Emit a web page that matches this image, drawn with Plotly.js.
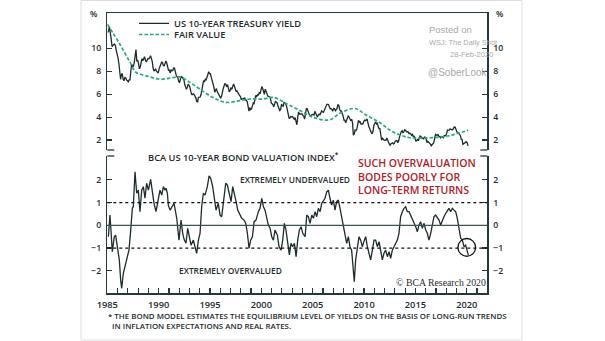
<!DOCTYPE html>
<html><head><meta charset="utf-8">
<script src="https://cdn.plot.ly/plotly-3.0.1.min.js"></script>
<style>html,body{margin:0;padding:0;background:#fff}#chart{width:605px;height:341px}</style>
</head><body><div id="chart"></div>
<script>
// ---------- DATA ----------
const startYear = 1985; // monthly series starts Jan 1985
const yieldMonthly = [
 11.38,11.51,11.86,11.43,10.85,10.16,10.31,10.33,10.37,10.24,9.78,9.26,
 9.19,8.70,7.78,7.30,7.71,7.80,7.30,7.17,7.45,7.43,7.25,7.11,
 7.08,7.25,7.25,8.02,8.61,8.40,8.45,8.76,9.42,9.90,8.86,8.99,
 8.67,8.21,8.37,8.72,9.09,8.92,9.06,9.26,8.98,8.80,8.96,9.11,
 9.09,9.17,9.36,9.18,8.86,8.28,8.02,8.11,8.19,8.01,7.87,7.84,
 8.21,8.47,8.59,8.79,8.76,8.48,8.47,8.75,8.89,8.72,8.39,8.08,
 8.09,7.85,8.11,8.04,8.07,8.28,8.27,7.90,7.65,7.53,7.42,7.09,
 7.03,7.34,7.54,7.48,7.39,7.26,6.84,6.59,6.42,6.59,6.87,6.77,
 6.60,6.26,5.98,5.97,6.04,5.96,5.81,5.68,5.36,5.33,5.72,5.77,
 5.75,5.97,6.48,6.97,7.18,7.10,7.30,7.24,7.46,7.74,7.96,7.81,
 7.78,7.47,7.20,7.06,6.63,6.17,6.28,6.49,6.20,6.04,5.93,5.71,
 5.65,5.81,6.27,6.51,6.74,6.91,6.87,6.64,6.83,6.53,6.20,6.30,
 6.58,6.42,6.69,6.89,6.71,6.49,6.22,6.30,6.21,6.03,5.88,5.81,
 5.54,5.57,5.65,5.64,5.65,5.50,5.46,5.34,4.81,4.53,4.83,4.65,
 4.72,5.00,5.23,5.18,5.54,5.90,5.79,5.94,5.92,6.11,6.03,6.28,
 6.66,6.52,6.26,5.99,6.44,6.10,6.05,5.83,5.80,5.74,5.72,5.24,
 5.16,5.10,4.89,5.14,5.39,5.28,5.24,4.97,4.73,4.57,4.65,5.09,
 5.04,4.91,5.28,5.21,5.16,4.93,4.65,4.26,3.87,3.94,4.05,4.03,
 4.05,3.90,3.81,3.96,3.57,3.33,3.98,4.45,4.27,4.29,4.30,4.27,
 4.15,4.08,3.83,4.35,4.72,4.73,4.50,4.28,4.13,4.10,4.19,4.23,
 4.22,4.17,4.50,4.34,4.14,4.00,4.18,4.26,4.20,4.46,4.54,4.47,
 4.42,4.57,4.72,4.99,5.11,5.11,5.09,4.88,4.72,4.73,4.60,4.56,
 4.76,4.72,4.56,4.69,4.75,5.10,5.00,4.67,4.52,4.53,4.15,4.10,
 3.74,3.74,3.51,3.68,3.88,4.10,4.01,3.89,3.69,3.81,3.53,2.42,
 2.52,2.87,2.82,2.93,3.29,3.72,3.56,3.59,3.40,3.39,3.40,3.59,
 3.73,3.69,3.73,3.85,3.42,3.20,3.01,2.70,2.65,2.54,2.76,3.29,
 3.39,3.58,3.41,3.46,3.17,3.00,3.00,2.30,1.98,2.15,2.01,1.98,
 1.97,1.97,2.17,2.05,1.80,1.62,1.53,1.68,1.72,1.75,1.65,1.72,
 1.91,1.98,1.96,1.76,1.93,2.30,2.58,2.74,2.81,2.62,2.72,2.90,
 2.86,2.71,2.72,2.71,2.56,2.60,2.54,2.42,2.53,2.30,2.33,2.21,
 1.88,1.98,2.04,1.94,2.20,2.36,2.32,2.17,2.17,2.07,2.26,2.24,
 2.09,1.78,1.89,1.81,1.81,1.64,1.50,1.56,1.63,1.76,2.14,2.49,
 2.43,2.42,2.48,2.30,2.30,2.19,2.32,2.21,2.20,2.36,2.35,2.40,
 2.58,2.86,2.84,2.87,2.98,2.91,2.89,2.89,3.00,3.15,3.12,2.83,
 2.71,2.68,2.57,2.53,2.40,2.07,2.06,1.63,1.70,1.71,1.81,1.86,
 1.76,1.50
];
const fairYears  = [1985.0,1986.2,1987.2,1987.8,1988.8,1990.1,1991.1,1992.1,1993.0,1994.0,1995.3,1996.6,1997.9,1998.9,2000.2,2001.2,2002.5,2003.8,2005.1,2006.6,2007.7,2009.1,2010.2,2011.55,2012.5,2013.5,2014.5,2016.4,2018.1,2019.0,2020.15];
const fairValues = [12.1,10.4,8.8,7.9,7.6,7.3,7.4,7.5,7.05,6.45,5.7,5.28,5.43,5.58,5.58,5.72,5.14,4.55,3.96,3.75,4.35,4.75,4.18,3.51,2.87,2.44,2.2,2.2,2.35,2.55,2.85];

const indexYears = [1985.10,1985.26,1985.49,1985.68,1985.81,1985.98,1986.17,1986.30,1986.40,1986.56,1986.72,1986.89,1987.11,1987.28,1987.44,1987.53,1987.70,1987.86,1988.02,1988.18,1988.35,1988.51,1988.67,1988.83,1989.00,1989.22,1989.39,1989.55,1989.74,1989.97,1990.13,1990.30,1990.46,1990.62,1990.72,1990.85,1990.94,1991.11,1991.27,1991.50,1991.76,1991.98,1992.18,1992.34,1992.50,1992.66,1992.83,1992.99,1993.15,1993.38,1993.54,1993.70,1993.87,1994.03,1994.19,1994.35,1994.52,1994.74,1994.91,1995.07,1995.26,1995.42,1995.59,1995.81,1995.98,1996.14,1996.30,1996.53,1996.69,1996.89,1997.05,1997.21,1997.37,1997.54,1997.70,1997.86,1998.09,1998.31,1998.48,1998.64,1998.80,1998.96,1999.13,1999.29,1999.48,1999.71,1999.87,2000.04,2000.20,2000.36,2000.52,2000.68,2000.85,2001.01,2001.17,2001.33,2001.56,2001.72,2001.92,2002.08,2002.24,2002.40,2002.53,2002.73,2002.89,2003.05,2003.22,2003.38,2003.54,2003.70,2003.87,2004.03,2004.26,2004.42,2004.58,2004.74,2004.91,2005.07,2005.23,2005.39,2005.55,2005.72,2005.88,2006.04,2006.20,2006.37,2006.53,2006.68,2006.85,2007.01,2007.17,2007.33,2007.50,2007.66,2007.82,2007.98,2008.14,2008.31,2008.47,2008.63,2008.79,2008.96,2009.05,2009.18,2009.35,2009.51,2009.67,2009.83,2010.03,2010.16,2010.32,2010.48,2010.64,2010.81,2010.97,2011.13,2011.29,2011.46,2011.62,2011.78,2011.94,2012.10,2012.27,2012.43,2012.59,2012.75,2012.92,2013.08,2013.24,2013.40,2013.56,2013.73,2013.89,2014.05,2014.21,2014.38,2014.54,2014.70,2014.86,2015.03,2015.19,2015.35,2015.51,2015.67,2015.84,2016.00,2016.16,2016.32,2016.49,2016.65,2016.81,2016.97,2017.13,2017.30,2017.46,2017.62,2017.78,2017.95,2018.11,2018.27,2018.43,2018.60,2018.76,2018.92,2019.08,2019.24,2019.41,2019.57,2019.73,2019.89,2020.06,2020.15];
const indexValues = [-0.50,0.45,-1.16,-0.50,-0.43,-0.94,-1.52,-2.40,-2.77,-2.11,-1.82,-1.38,-1.09,-0.21,0.75,0.82,2.36,1.41,1.55,0.60,1.55,1.70,1.19,1.85,1.55,2.02,1.41,0.97,0.60,1.26,1.55,1.33,1.70,1.55,1.63,1.41,0.89,0.67,0.82,0.97,0.31,-0.65,0.23,-0.35,-0.65,-0.79,-0.13,-0.50,-0.87,-0.65,-0.91,-1.23,-0.65,-0.35,0.82,1.41,1.33,1.70,2.18,2.07,1.70,1.26,0.67,0.97,0.45,0.38,1.11,1.85,1.77,1.41,1.04,1.70,1.41,1.04,0.67,0.53,0.31,0.23,0.09,-0.35,-1.01,-0.65,-0.50,0.16,0.23,0.60,0.75,1.19,0.82,0.67,0.31,0.01,-0.13,-0.50,-0.65,-0.21,-0.43,-0.94,-1.09,-0.65,0.09,-0.21,-0.65,-1.30,-0.79,-0.94,-0.79,-1.38,-0.65,-0.21,-0.06,-0.35,-0.50,0.45,0.38,0.09,0.45,0.31,0.60,0.38,0.75,0.60,0.97,1.11,1.19,1.48,1.55,1.19,0.89,1.11,0.67,1.04,1.11,0.75,0.38,0.01,-0.50,-0.79,-0.50,-0.94,-1.09,-1.82,-2.48,-1.52,-1.09,-0.50,-0.65,-0.94,-0.65,-0.50,-0.94,-1.23,-1.52,-1.09,-0.65,-0.65,-0.94,-0.72,-1.23,-1.52,-1.23,-1.09,-1.38,-1.16,-1.45,-1.09,-0.94,-0.79,-0.65,-0.35,0.38,0.60,0.75,0.82,0.60,0.60,0.45,0.31,0.16,-0.06,-0.28,0.01,0.16,-0.13,0.09,-0.21,-0.35,-0.65,-0.35,0.01,0.38,0.45,0.31,0.23,0.01,0.23,0.38,0.53,0.67,0.75,0.60,0.75,0.67,0.60,0.31,-0.13,-0.57,-0.65,-0.94,-0.87,-1.09,-1.30];

const labelYears = [1985,1990,1995,2000,2005,2010,2015,2020];
const yieldTicks = [2,4,6,8,10];
const indexTicks = [-2,-1,0,1,2];
const bandLevels = [-1,1];
const highlight = {year: 2020.0, value: -0.97};

// ---------- DRAW ----------
const W = 605, H = 341;
const px = v => v / W, py = v => 1 - v / H;
const yieldYears = yieldMonthly.map((_, i) => startYear + (i + 0.5) / 12);
const xRange = [1985, 2022];
const allYears = []; for (let y = xRange[0]; y <= xRange[1]; y++) allYears.push(y);

const INK = '#1d2b2c', AX = '#24393a', GREEN = '#22ad72';
const baseFont = {family: 'Open Sans, Lato, sans-serif', color: INK};
const f = (size, weight) => Object.assign({}, baseFont, {size, weight: weight || 600});
const tickFont = f(8.7);
const xDom = [px(107.3), px(487.3)];

const traces = [
  {x: yieldYears, y: yieldMonthly, xaxis: 'x', yaxis: 'y', mode: 'lines', name: 'US 10-YEAR TREASURY YIELD',
   line: {color: INK, width: 1.3}, legend: 'legend'},
  {x: fairYears, y: fairValues, xaxis: 'x', yaxis: 'y', mode: 'lines', name: 'FAIR VALUE',
   line: {color: GREEN, width: 1.7, dash: '3.5px,2px', shape: 'spline', smoothing: 1}, legend: 'legend2'},
  {x: indexYears, y: indexValues, xaxis: 'x2', yaxis: 'y2', mode: 'lines', showlegend: false,
   line: {color: INK, width: 1.3}},
  {x: [], y: [], xaxis: 'x', yaxis: 'y3', showlegend: false, hoverinfo: 'skip'},
  {x: [], y: [], xaxis: 'x2', yaxis: 'y4', showlegend: false, hoverinfo: 'skip'}
];

const yTop = [1.13, 13.08], yBot = [-2.99, 3.05];
const yAxisCommon = {showline: true, linecolor: AX, linewidth: 1.3, ticks: 'inside', ticklen: 5, tickwidth: 1.2,
  tickcolor: AX, showgrid: false, zeroline: false, tickfont: tickFont, fixedrange: true, ticklabelstandoff: 3};

const shapes = [];
bandLevels.forEach(l => shapes.push({type: 'line', xref: 'x2 domain', yref: 'y2', x0: 0, x1: 1, y0: l, y1: l,
  line: {color: '#111', width: 1.2, dash: '3px,3px'}}));
shapes.push({type: 'line', xref: 'x2 domain', yref: 'y2', x0: 0, x1: 1, y0: 0, y1: 0, line: {color: '#3a5354', width: 1.2}});
const stub = 7 / 380;
[['y domain', 0], ['y2 domain', 1]].forEach(([ref, yy]) => {
  shapes.push({type: 'line', xref: 'x domain', yref: ref, x0: 0, x1: stub, y0: yy, y1: yy, line: {color: AX, width: 1.3}});
  shapes.push({type: 'line', xref: 'x domain', yref: ref, x0: 1 - stub, x1: 1, y0: yy, y1: yy, line: {color: AX, width: 1.3}});
});
shapes.push({type: 'circle', xref: 'x2', yref: 'y2', x0: highlight.year - 0.86, x1: highlight.year + 0.86,
  y0: highlight.value - 0.39, y1: highlight.value + 0.39, line: {color: '#111', width: 1.3}});
shapes.push({type: 'rect', xref: 'paper', yref: 'paper', x0: px(81), x1: px(522), y0: py(340), y1: py(0.5),
  line: {color: '#dedede', width: 1}});

const ann = (text, x, y, opts) => Object.assign({text, xref: 'paper', yref: 'paper', x: px(x), y: py(y),
  showarrow: false, xanchor: 'left', yanchor: 'middle', font: f(8.5)}, opts || {});
const gray = (size) => ({family: 'Liberation Sans, Arial, sans-serif', size, color: '#a9a9a9'});

const annotations = [
  ann('%', 98.5, 13.5, {xanchor: 'right'}),
  ann('%', 494, 13.5),
  ann('BCA US 10-YEAR BOND VALUATION INDEX<sup>*</sup>', 146, 156.5, {font: f(9.3)}),
  ann('EXTREMELY UNDERVALUED', 295, 179, {xanchor: 'center', font: f(8.4)}),
  ann('EXTREMELY OVERVALUED', 230.5, 270, {xanchor: 'center', font: f(8.4)}),
  ann('SUCH OVERVALUATION<br>BODES POORLY FOR<br>LONG-TERM RETURNS', 355.5, 176.5, {align: 'left',
    font: {family: 'Open Sans, sans-serif', size: 10.5, weight: 600, color: '#b3201f'}}),
  ann('© BCA Research 2020', 394, 282, {font: {family: 'Liberation Serif, DejaVu Serif, serif', size: 9.8, color: INK}}),
  ann('Posted on', 427, 29, {font: gray(9.5)}),
  ann('WSJ: The Daily Shot', 427, 42, {font: gray(7.4)}),
  ann('28-Feb-2020', 495, 55, {xanchor: 'right', font: gray(7.6)}),
  ann('@SoberLook', 426, 72, {font: gray(10)}),
  ann('* THE BOND MODEL ESTIMATES THE EQUILIBRIUM LEVEL OF YIELDS ON THE BASIS OF LONG-RUN TRENDS<br>&nbsp;&nbsp;IN INFLATION EXPECTATIONS AND REAL RATES.',
    107, 320.6, {align: 'left', borderpad: 0, font: f(7.9)})
];

const legendCommon = {xanchor: 'left', yanchor: 'middle', bgcolor: 'rgba(0,0,0,0)', borderwidth: 0, itemwidth: 30,
  font: f(9.3), itemclick: false, itemdoubleclick: false};

const layout = {
  width: W, height: H, margin: {l: 0, r: 0, t: 0, b: 0},
  paper_bgcolor: '#fff', plot_bgcolor: 'rgba(0,0,0,0)',
  showlegend: true,
  legend: Object.assign({x: px(134), y: py(23.3)}, legendCommon),
  legend2: Object.assign({x: px(134), y: py(34.5)}, legendCommon),
  xaxis: {domain: xDom, range: xRange, anchor: 'y', side: 'top', showline: true, linecolor: AX, linewidth: 1.3,
    showticklabels: false, ticks: '', showgrid: false, zeroline: false, fixedrange: true},
  yaxis: Object.assign({domain: [py(150), py(13)], range: yTop, anchor: 'x', side: 'left', tickvals: yieldTicks}, yAxisCommon),
  yaxis3: Object.assign({overlaying: 'y', range: yTop, anchor: 'x', side: 'right', tickvals: yieldTicks}, yAxisCommon),
  xaxis2: {domain: xDom, range: xRange, anchor: 'y2', side: 'bottom', showline: true, linecolor: AX, linewidth: 1.3,
    tickvals: allYears, ticktext: allYears.map(y => labelYears.includes(y) ? String(y) : ''),
    ticks: 'inside', ticklen: 5, tickwidth: 1.2, tickcolor: AX, ticklabelshift: 5.1, ticklabelstandoff: 2,
    tickfont: f(9.3), showgrid: false, zeroline: false, fixedrange: true},
  yaxis2: Object.assign({domain: [py(293.3), py(156)], range: yBot, anchor: 'x2', side: 'left', tickvals: indexTicks}, yAxisCommon),
  yaxis4: Object.assign({overlaying: 'y2', range: yBot, anchor: 'x2', side: 'right', tickvals: indexTicks}, yAxisCommon),
  shapes, annotations
};

Plotly.newPlot('chart', traces, layout, {displayModeBar: false, staticPlot: true});
</script></body></html>
